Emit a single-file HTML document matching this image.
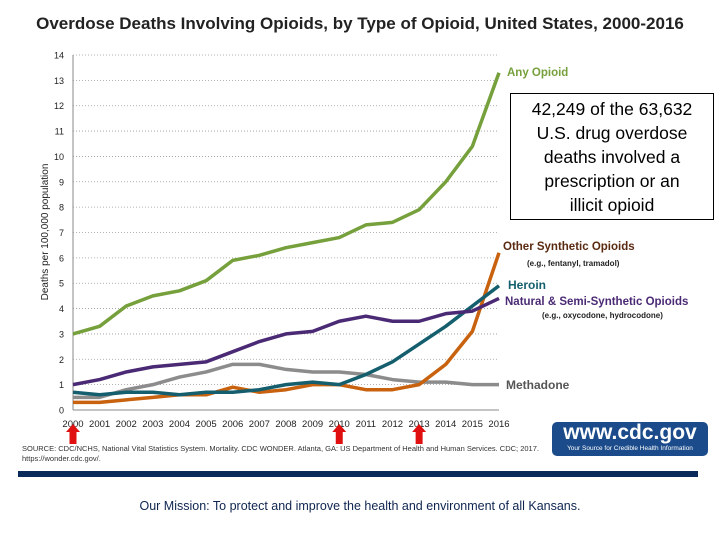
<!DOCTYPE html>
<html><head><meta charset="utf-8"><style>
body{margin:0;width:720px;height:540px;background:#fff;overflow:hidden;font-family:"Liberation Sans",sans-serif;position:relative}
#title{position:absolute;left:0;top:14px;width:720px;text-align:center;font-weight:bold;font-size:17px;color:#222}
#box{position:absolute;left:510px;top:93px;width:204px;height:127px;border:1px solid #000;box-sizing:border-box;text-align:center;font-size:17.5px;line-height:24px;padding-top:3px;background:#fff}
#rule{position:absolute;left:18px;top:471px;width:680px;height:6px;background:#0a2a5c}
#mission{position:absolute;left:0;top:499px;width:720px;text-align:center;font-size:12.5px;color:#0f2550}
#cdc{position:absolute;left:552px;top:422px;width:156px;height:34px;background:#1b4b8a;border-radius:5px;color:#fff;text-align:center}
</style></head><body>
<div id="title">Overdose Deaths Involving Opioids, by Type of Opioid, United States, 2000-2016</div>
<svg id="chart" width="720" height="470" style="position:absolute;left:0;top:0"></svg>
<div id="box">42,249 of the 63,632<br>U.S. drug overdose<br>deaths involved a<br>prescription or an<br>illicit opioid</div>
<div id="cdc"><div style="font-size:21px;font-weight:bold;line-height:22px">www.cdc.gov</div><div style="font-size:6.5px;line-height:9px">Your Source for Credible Health Information</div></div>
<div id="rule"></div>
<div id="mission">Our Mission: To protect and improve the health and environment of all Kansans.</div>
<script>
const years=[2000,2001,2002,2003,2004,2005,2006,2007,2008,2009,2010,2011,2012,2013,2014,2015,2016];
const yTicks=[0,1,2,3,4,5,6,7,8,9,10,11,12,13,14];
const anyOpioid=[3.0,3.3,4.1,4.5,4.7,5.1,5.9,6.1,6.4,6.6,6.8,7.3,7.4,7.9,9.0,10.4,13.3];
const natural=[1.0,1.2,1.5,1.7,1.8,1.9,2.3,2.7,3.0,3.1,3.5,3.7,3.5,3.5,3.8,3.9,4.4];
const methadone=[0.5,0.5,0.8,1.0,1.3,1.5,1.8,1.8,1.6,1.5,1.5,1.4,1.2,1.1,1.1,1.0,1.0];
const heroin=[0.7,0.6,0.7,0.7,0.6,0.7,0.7,0.8,1.0,1.1,1.0,1.4,1.9,2.6,3.3,4.1,4.9];
const otherSynth=[0.3,0.3,0.4,0.5,0.6,0.6,0.9,0.7,0.8,1.0,1.0,0.8,0.8,1.0,1.8,3.1,6.2];
const arrowYears=[2000,2010,2013];
const NS="http://www.w3.org/2000/svg",svg=document.getElementById('chart');
const x=v=>73+(v-2000)*(426/16), y=v=>410-v*(355/14);
function mk(t,a,p){const e=document.createElementNS(NS,t);for(const k in a)e.setAttribute(k,a[k]);(p||svg).appendChild(e);return e;}
yTicks.forEach(t=>{
 if(t>0){const g=mk('line',{x1:73,x2:499,y1:y(t),y2:y(t),stroke:'#999','stroke-dasharray':'1,2','stroke-width':0.8});
 
 }
 const l=mk('text',{x:64,y:y(t)+3.5,'text-anchor':'end','font-size':9,fill:'#222'});l.textContent=t;
 
 
});
mk('line',{x1:73,x2:73,y1:y(14),y2:y(0),stroke:'#888'});
mk('line',{x1:73,x2:499,y1:y(0),y2:y(0),stroke:'#888'});
years.forEach(v=>{const l=mk('text',{x:x(v),y:427,'text-anchor':'middle','font-size':9.5,fill:'#222'});l.textContent=v;
 
 });
const yt=mk('text',{transform:'translate(48,232) rotate(-90)','text-anchor':'middle','font-size':10,fill:'#222'});yt.textContent='Deaths per 100,000 population';


const series=[[methadone,'#8c8c8c','methadone'],[otherSynth,'#c8620f','other-synthetic'],[heroin,'#145e6e','heroin'],[natural,'#4b2a75','natural-semi-synthetic'],[anyOpioid,'#76a03c','any-opioid']];
series.forEach(([d,c,n])=>{const p=mk('polyline',{points:d.map((v,i)=>x(years[i])+','+y(v)).join(' '),fill:'none',stroke:c,'stroke-width':3.5,'stroke-linejoin':'round'});
 
 });
const labels=[['Any Opioid',507,76,'#76a03c',11.5],['Other Synthetic Opioids',503,250,'#5a2a10',11.5],['(e.g., fentanyl, tramadol)',527,266,'#222',8],['Heroin',508,289,'#145e6e',12],['Natural & Semi-Synthetic Opioids',505,305,'#4b2a75',11.5],['(e.g., oxycodone, hydrocodone)',542,318,'#222',8],['Methadone',506,389,'#555',12]];
labels.forEach(([t,lx,ly,c,fs])=>{const e=mk('text',{x:lx,y:ly,'font-size':fs,'font-weight':'bold',fill:c});e.textContent=t;
 
 });
arrowYears.forEach(v=>{const a=mk('polygon',{points:`${x(v)},424 ${x(v)+7},432 ${x(v)+3.5},432 ${x(v)+3.5},444 ${x(v)-3.5},444 ${x(v)-3.5},432 ${x(v)-7},432`,fill:'#e01010'});
 
 });
const s1=mk('text',{x:22,y:451,'font-size':7.5,fill:'#333'});s1.textContent='SOURCE: CDC/NCHS, National Vital Statistics System. Mortality. CDC WONDER. Atlanta, GA: US Department of Health and Human Services. CDC; 2017.';


const s2=mk('text',{x:22,y:461,'font-size':7.5,fill:'#333'});s2.textContent='https://wonder.cdc.gov/.';


</script>
</body></html>
